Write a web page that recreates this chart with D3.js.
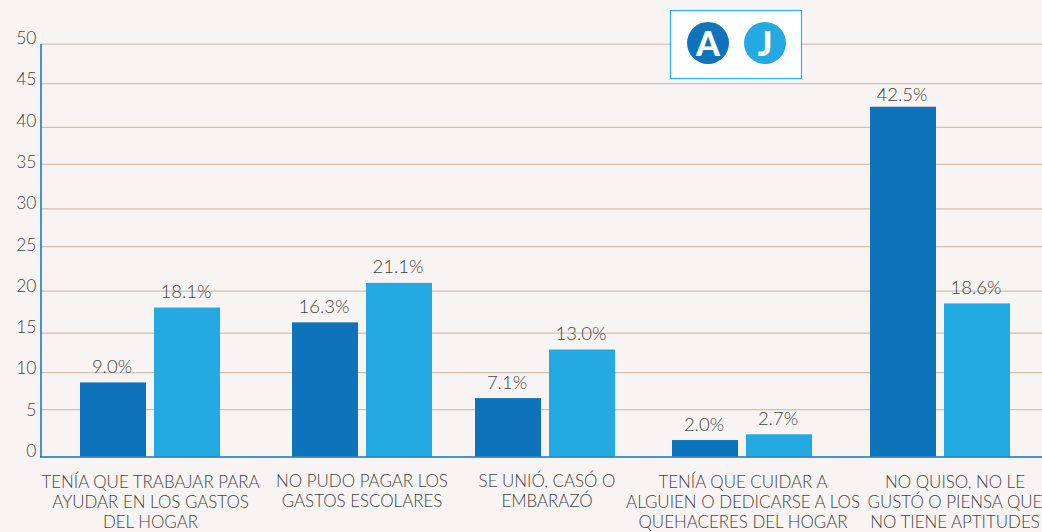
<!DOCTYPE html>
<html><head><meta charset="utf-8">
<script src="https://cdn.jsdelivr.net/npm/d3@7/dist/d3.min.js"></script>
<style>html,body{margin:0;padding:0;background:#f8f4f3}svg{display:block}text{font-family:Lato,sans-serif;font-weight:300;fill:#444}</style>
</head><body><svg id="c" width="1042" height="532"></svg>
<script>
const categories=[
 ["TENÍA QUE TRABAJAR PARA","AYUDAR EN LOS GASTOS","DEL HOGAR"],
 ["NO PUDO PAGAR LOS","GASTOS ESCOLARES"],
 ["SE UNIÓ, CASÓ O","EMBARAZÓ"],
 ["TENÍA QUE CUIDAR A","ALGUIEN O DEDICARSE A LOS","QUEHACERES DEL HOGAR"],
 ["NO QUISO, NO LE","GUSTÓ O PIENSA QUE","NO TIENE APTITUDES"]];
const seriesA=[9.0,16.3,7.1,2.0,42.5];
const seriesJ=[18.1,21.1,13.0,2.7,18.6];
const yTicks=[0,5,10,15,20,25,30,35,40,45,50];
const gridLevels=[5.7,10.2,15,20.1,25.5,30.1,35.5,40,45.3,50.1];
const legendLetters=["A","J"];

const svg=d3.select("#c");
const colors=["#0f73bb","#24a9e2"];
const y=d3.scaleLinear().domain([0,50]).range([456.5,45]);
const yLabel=d3.scaleLinear().domain([0,50]).range([457,44]);
const idx=categories.map((_,i)=>i);
const xStart=d3.scaleOrdinal(idx,[80,292,475,672,870]);
const xLabel=d3.scaleOrdinal(idx,[150.5,362,547,743,955]);
const barW=66,step=74;

svg.append("g").selectAll("line").data(gridLevels).join("line")
 .attr("x1",41).attr("x2",1042).attr("y1",d=>y(d)).attr("y2",d=>y(d))
 .attr("stroke","#cfc2b2").attr("stroke-width",1.2);

[seriesA,seriesJ].forEach((s,k)=>{
 svg.append("g").selectAll("text").data(s).join("text")
  .attr("x",(d,i)=>xStart(i)+k*step+barW/2-1)
  .attr("y",(d,i)=>y(d)-(d>40?6:9.5))
  .attr("text-anchor","middle").attr("font-size",18.5).text(d=>d.toFixed(1)+"%");
 svg.append("g").selectAll("rect").data(s).join("rect")
  .attr("x",(d,i)=>xStart(i)+k*step).attr("width",barW)
  .attr("y",d=>y(d)).attr("height",d=>y(0)-y(d)).attr("fill",colors[k]);
});

svg.append("line").attr("x1",41).attr("x2",41).attr("y1",44).attr("y2",457).attr("stroke","#0f73bb").attr("stroke-width",1.5);
svg.append("line").attr("x1",40).attr("x2",1042).attr("y1",457).attr("y2",457).attr("stroke","#0f73bb").attr("stroke-width",1.5);

svg.append("g").selectAll("text").data(yTicks).join("text")
 .attr("x",36.5).attr("y",d=>yLabel(d)).attr("text-anchor","end").attr("font-size",17.5).text(d=>d);

categories.forEach((lines,i)=>{
 svg.append("text").attr("text-anchor","middle").attr("font-size",16.9)
  .selectAll("tspan").data(lines).join("tspan")
  .attr("x",xLabel(i)).attr("y",(d,j)=>(i==1||i==2?487:487.6)+j*20.4).text(d=>d);
});

svg.append("rect").attr("x",670.5).attr("y",10.5).attr("width",131).attr("height",68)
 .attr("fill","#fff").attr("stroke","#2fb2e9").attr("stroke-width",1.2);
const lx=d3.scaleOrdinal([0,1],[708,765]);
const leg=svg.append("g").selectAll("g").data(legendLetters).join("g").attr("transform",(d,i)=>`translate(${lx(i)},43)`);
leg.append("circle").attr("r",21).attr("fill",(d,i)=>colors[i]);
leg.append("text").attr("text-anchor","middle").attr("y",12.5).attr("font-size",34)
 .style("font-family","Lato,sans-serif").style("font-weight",900).style("fill","#fff").text(d=>d);
</script></body></html>
